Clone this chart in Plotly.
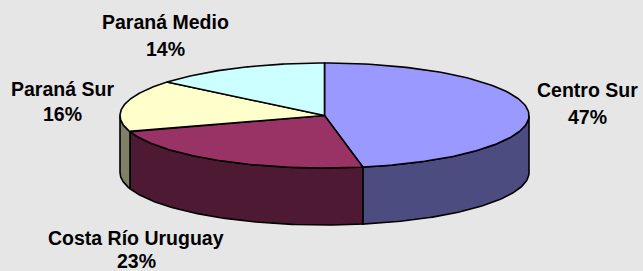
import numpy as np
import plotly.graph_objects as go

# ---- data ----
categories = ["Centro Sur", "Costa Río Uruguay", "Paraná Sur", "Paraná Medio"]
values = [47, 23, 16, 14]
top_colors = ["#9999FF", "#993366", "#FFFFCC", "#CCFFFF"]
side_colors = ["#4C4C80", "#4D1933", "#808066", "#668080"]

# ---- geometry (pixel space) ----
CX, CY, A, B, D = 324.5, 115.5, 204.5, 52.5, 57.0
W, H = 643, 271

def pt(theta_deg, dy=0.0):
    t = np.radians(theta_deg)
    return CX + A * np.sin(t), CY - B * np.cos(t) + dy

fig = go.Figure()
total = float(sum(values))
angles = []
acc = 0.0
for v in values:
    t0 = acc / total * 360.0
    acc += v
    t1 = acc / total * 360.0
    angles.append((t0, t1))

# side walls (front half only: 90..270 deg clockwise from top)
for (t0, t1), col in zip(angles, side_colors):
    s0, s1 = max(t0, 90.0), min(t1, 270.0)
    if s1 <= s0:
        continue
    th = np.linspace(s0, s1, 80)
    xt, yt = pt(th)
    xb, yb = pt(th[::-1], D)
    xs = np.concatenate([xt, xb, xt[:1]])
    ys = np.concatenate([yt, yb, yt[:1]])
    fig.add_trace(go.Scatter(x=xs, y=ys, mode="lines", fill="toself",
                             fillcolor=col, line=dict(color="black", width=1.6),
                             hoverinfo="skip", showlegend=False))

# top faces
for (t0, t1), col in zip(angles, top_colors):
    th = np.linspace(t0, t1, 120)
    xa, ya = pt(th)
    xs = np.concatenate([[CX], xa, [CX]])
    ys = np.concatenate([[CY], ya, [CY]])
    fig.add_trace(go.Scatter(x=xs, y=ys, mode="lines", fill="toself",
                             fillcolor=col, line=dict(color="black", width=1.6),
                             hoverinfo="skip", showlegend=False))

# labels: (x center, y of name, y of percent)
label_pos = {
    "Centro Sur": (587, 90, 117),
    "Costa Río Uruguay": (136, 238, 261),
    "Paraná Sur": (62, 89, 114),
    "Paraná Medio": (165, 22, 49),
}
font = dict(family="Liberation Sans, Arial, sans-serif", size=19.5, color="black")
for cat, v in zip(categories, values):
    x, y1, y2 = label_pos[cat]
    pct = f"{round(v / total * 100)}%"
    fig.add_annotation(x=x, y=y1, text=f"<b>{cat}</b>", showarrow=False,
                       xanchor="center", yanchor="middle", font=font)
    fig.add_annotation(x=x, y=y2, text=f"<b>{pct}</b>", showarrow=False,
                       xanchor="center", yanchor="middle", font=font)

fig.update_layout(
    width=W, height=H, autosize=False,
    margin=dict(l=0, r=0, t=0, b=0),
    paper_bgcolor="#E6E6E6", plot_bgcolor="#E6E6E6",
    xaxis=dict(range=[0, W], visible=False, fixedrange=True),
    yaxis=dict(range=[H, 0], visible=False, fixedrange=True),
)
fig.write_html(
    "out.html",
    config={"displayModeBar": False},
    post_script="document.body.style.margin='0';document.body.style.overflow='hidden';document.body.style.background='#E6E6E6';",
)
